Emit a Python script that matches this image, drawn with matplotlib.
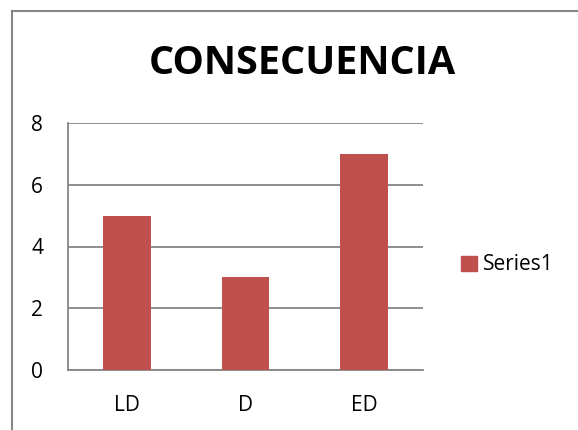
import matplotlib
matplotlib.use("Agg")
import matplotlib.pyplot as plt
import matplotlib.patches as patches
from matplotlib.lines import Line2D

categories = ["LD", "D", "ED"]
values = [5, 3, 7]
y_ticks = [0, 2, 4, 6, 8]
title = "CONSECUENCIA"
series_name = "Series1"

BAR = "#C0504D"
GRID = "#868686"

plt.rcParams['font.family'] = ['Open Sans', 'DejaVu Sans']

fig = plt.figure(figsize=(5.78, 4.30), dpi=100)
ax = fig.add_axes([68 / 578, 60 / 430, 355 / 578, 247 / 430])

x = range(len(categories))
ax.bar(x, values, width=0.4, color=BAR, zorder=3)

ax.set_xlim(-0.5, len(categories) - 0.5)
ax.set_ylim(0, 8)
ax.set_yticks(y_ticks)
ax.set_xticks(list(x))
ax.set_xticklabels(categories)
ax.yaxis.grid(True, color=GRID, linewidth=1.3, zorder=0)
ax.tick_params(axis='both', length=0, labelsize=15)
ax.tick_params(axis='y', pad=18)
ax.tick_params(axis='x', pad=18)

for s in ['top', 'right']:
    ax.spines[s].set_visible(False)
for s in ['left', 'bottom']:
    ax.spines[s].set_color(GRID)
    ax.spines[s].set_linewidth(1.3)

fig.text(302 / 578, 1 - 63 / 430, title, ha='center', va='center',
         fontsize=28.5, fontweight='bold')

# legend: square at x 465-480, text to ~562
handle = patches.Patch(color=BAR)
fig.legend([handle], [series_name], loc='center left',
           bbox_to_anchor=(461 / 578, 1 - 265 / 430), frameon=False,
           borderpad=0, borderaxespad=0,
           fontsize=15, handlelength=0.75, handleheight=0.75, handletextpad=0.3)

# outer chart frame (left and top edges visible)
fig.add_artist(Line2D([12 / 578, 12 / 578], [0, 1 - 11 / 430],
                      transform=fig.transFigure, color=GRID, linewidth=1.5))
fig.add_artist(Line2D([12 / 578, 1], [1 - 11 / 430, 1 - 11 / 430],
                      transform=fig.transFigure, color=GRID, linewidth=1.5))

fig.savefig("out.png", dpi=100)
